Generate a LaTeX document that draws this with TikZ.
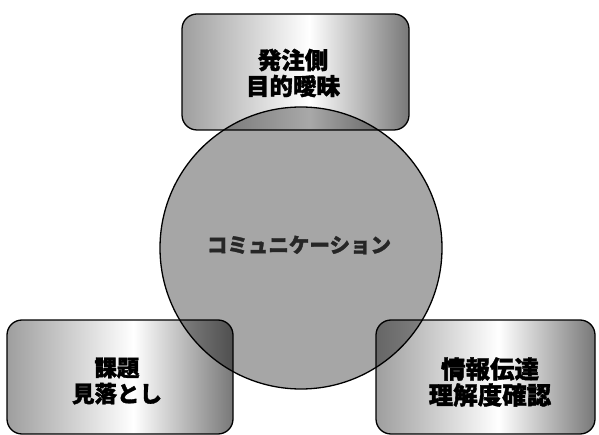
\documentclass[tikz,border=0pt]{standalone}
\usepackage{fontspec}
\newfontfamily\jp[FakeBold=1.5]{Noto Sans CJK JP Bold}
\definecolor{cA}{gray}{0.62}
\definecolor{cB}{gray}{0.47}
\definecolor{cAd}{gray}{0.40}
\definecolor{cWd}{gray}{0.66}
\definecolor{cBd}{gray}{0.31}
\definecolor{circ}{gray}{0.65}
\pgfdeclarehorizontalshading{boxshade}{100bp}{color(0bp)=(cA); color(25bp)=(cA); color(53bp)=(white); color(75bp)=(cB); color(100bp)=(cB)}
\pgfdeclarehorizontalshading{boxshadedark}{100bp}{color(0bp)=(cAd); color(25bp)=(cAd); color(53bp)=(cWd); color(75bp)=(cBd); color(100bp)=(cBd)}
\tikzset{
  boxfill/.style={shading=boxshade, rounded corners=15pt},
  boxdark/.style={shading=boxshadedark, rounded corners=15pt},
  boxline/.style={draw=black, line width=1.3pt, rounded corners=15pt},
  boxtext/.style={align=center, text=black},
  midtext/.style={font=\jp\bfseries\fontsize{20.5}{24}\selectfont, text=black!85}
}
\begin{document}
\begin{tikzpicture}[x=1pt,y=-1pt]
\useasboundingbox (0,0) rectangle (599,435);
% boxes
\def\boxT{(182,14) rectangle (409,130)}
\def\boxL{(7,320) rectangle (233,434)}
\def\boxR{(376,320) rectangle (595,434)}
\shade[boxfill] \boxT;
\shade[boxfill] \boxL;
\shade[boxfill] \boxR;
% circle
\fill[circ] (301,248) circle (141);
\begin{scope}
  \clip (301,248) circle (141);
  \shade[boxdark] \boxT;
  \shade[boxdark] \boxL;
  \shade[boxdark] \boxR;
\end{scope}
% outlines
\draw[boxline] \boxT;
\draw[boxline] \boxL;
\draw[boxline] \boxR;
\draw[line width=1.3pt] (301,248) circle (141);
% texts
\node[boxtext, font=\jp\bfseries\fontsize{23.5}{26}\selectfont] (top) at (293,73) {発注側\\目的曖昧};
\node[boxtext, font=\jp\bfseries\fontsize{22.5}{26}\selectfont] (left) at (117,381) {課題\\見落とし};
\node[boxtext, font=\jp\bfseries\fontsize{24.5}{26}\selectfont] (right) at (490,382) {情報伝達\\理解度確認};
\node[midtext] (mid) at (299,245) {コミュニケーション};
\end{tikzpicture}
\end{document}
